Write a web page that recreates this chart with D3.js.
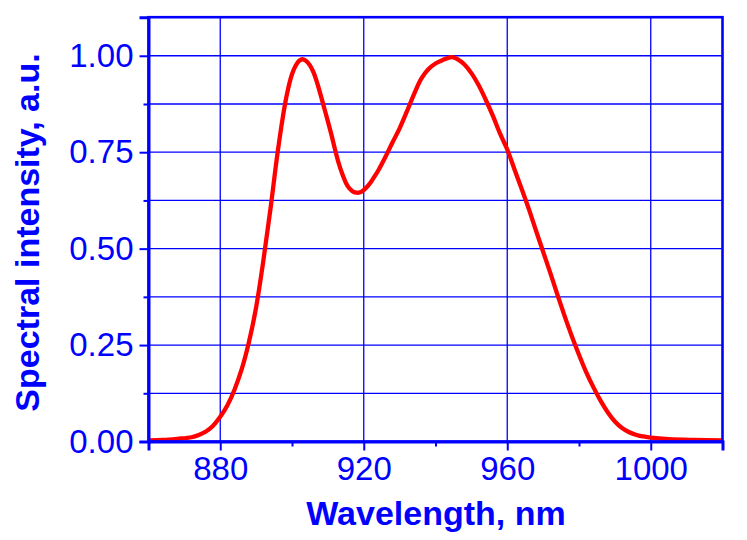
<!DOCTYPE html>
<html>
<head>
<meta charset="utf-8">
<script src="https://cdn.jsdelivr.net/npm/d3@7"></script>
<style>
  html, body { margin: 0; padding: 0; background: #fff; }
  svg { display: block; }
</style>
</head>
<body>
<svg id="chart" width="747" height="540"></svg>
<script>
const wavelength = [860, 864, 868, 872, 874, 876, 878, 880, 882, 884, 886, 888, 890, 892, 894, 896, 898, 899, 900, 901, 902, 903, 904, 905, 906, 907, 908, 909, 910, 911, 912, 913, 914, 915, 916, 917, 918, 919, 920, 921, 922, 923, 924, 926, 928, 930, 932, 934, 936, 938, 940, 942, 944, 945, 946, 948, 950, 952, 954, 956, 958, 960, 962, 964, 966, 968, 970, 972, 974, 976, 978, 980, 982, 984, 986, 988, 990, 992, 994, 996, 998, 1000, 1005, 1012, 1020];
const intensity = [0.003, 0.004, 0.007, 0.011, 0.017, 0.026, 0.041, 0.064, 0.094, 0.135, 0.188, 0.258, 0.348, 0.468, 0.603, 0.750, 0.872, 0.918, 0.952, 0.974, 0.987, 0.991, 0.986, 0.975, 0.957, 0.930, 0.898, 0.864, 0.830, 0.795, 0.757, 0.722, 0.694, 0.671, 0.656, 0.648, 0.645, 0.646, 0.652, 0.661, 0.673, 0.687, 0.702, 0.737, 0.775, 0.812, 0.855, 0.900, 0.940, 0.965, 0.980, 0.989, 0.996, 0.996, 0.992, 0.978, 0.955, 0.924, 0.886, 0.844, 0.798, 0.757, 0.706, 0.655, 0.603, 0.547, 0.492, 0.437, 0.380, 0.325, 0.273, 0.225, 0.180, 0.141, 0.106, 0.076, 0.052, 0.035, 0.024, 0.017, 0.013, 0.010, 0.006, 0.004, 0.003];
const xMajorTicks = [880, 920, 960, 1000];
const xMinorTicks = [860, 900, 940, 980, 1020];
const yMajorTicks = [0, 0.25, 0.5, 0.75, 1.0];
const yMinorTicks = [0.125, 0.375, 0.625, 0.875];
const xTitle = "Wavelength, nm";
const yTitle = "Spectral intensity, a.u.";

const blue = "#0000ff", red = "#ff0000";
const font = "Arial, 'Liberation Sans', sans-serif";
const svg = d3.select("#chart");

const x = d3.scaleLinear().domain([860, 1020]).range([148.5, 722.5]);
const y = d3.scaleLinear().domain([0, 1.1]).range([441.5, 17.2]);

// grid
const grid = svg.append("g").attr("stroke", blue).attr("stroke-width", 1.3);
grid.selectAll("line.v").data(xMajorTicks).enter().append("line")
  .attr("x1", d => x(d)).attr("x2", d => x(d))
  .attr("y1", y(0)).attr("y2", y(1.1));
grid.selectAll("line.h").data(yMajorTicks.concat(yMinorTicks).filter(d => d > 0)).enter().append("line")
  .attr("x1", x(860)).attr("x2", x(1020))
  .attr("y1", d => y(d)).attr("y2", d => y(d));

// curve
const pts = wavelength.map((w, i) => [w, intensity[i]]);
svg.append("path")
  .datum(pts)
  .attr("fill", "none")
  .attr("stroke", red)
  .attr("stroke-width", 4.3)
  .attr("stroke-linejoin", "round")
  .attr("d", d3.line().x(d => x(d[0])).y(d => y(d[1])).curve(d3.curveCatmullRom.alpha(0.5)));

// frame
svg.append("rect")
  .attr("x", x(860)).attr("y", y(1.1))
  .attr("width", x(1020) - x(860)).attr("height", y(0) - y(1.1))
  .attr("fill", "none").attr("stroke", blue).attr("stroke-width", 2.6);

// x axis
const xAxis = svg.append("g").attr("transform", `translate(0,${y(0)})`)
  .call(d3.axisBottom(x).tickValues(xMajorTicks).tickSize(9).tickPadding(6).tickFormat(d3.format("d")));
xAxis.selectAll(".tick line").attr("stroke", blue).attr("stroke-width", 2);
xAxis.select(".domain").attr("stroke", blue).attr("stroke-width", 3);
xAxis.selectAll("text").attr("fill", blue).style("font-family", font).style("font-size", "33px");
svg.append("g").attr("transform", `translate(0,${y(0)})`)
  .call(d3.axisBottom(x).tickValues(xMinorTicks).tickSize(5).tickFormat(""))
  .call(g => g.select(".domain").remove())
  .selectAll(".tick line").attr("stroke", blue).attr("stroke-width", 2);

// y axis
const yAxis = svg.append("g").attr("transform", `translate(${x(860)},0)`)
  .call(d3.axisLeft(y).tickValues(yMajorTicks).tickSize(9).tickPadding(6).tickFormat(d3.format(".2f")));
yAxis.selectAll(".tick line").attr("stroke", blue).attr("stroke-width", 2);
yAxis.select(".domain").attr("stroke", blue).attr("stroke-width", 3);
yAxis.selectAll("text").attr("fill", blue).style("font-family", font).style("font-size", "33px");
svg.append("g").attr("transform", `translate(${x(860)},0)`)
  .call(d3.axisLeft(y).tickValues(yMinorTicks).tickSize(5).tickFormat(""))
  .call(g => g.select(".domain").remove())
  .selectAll(".tick line").attr("stroke", blue).attr("stroke-width", 2);

// titles
svg.append("text")
  .attr("x", 436).attr("y", 525)
  .attr("text-anchor", "middle")
  .attr("fill", blue)
  .style("font-family", font).style("font-size", "34px").style("font-weight", "bold")
  .text(xTitle);
svg.append("text")
  .attr("transform", "translate(39,232.5) rotate(-90)")
  .attr("text-anchor", "middle")
  .attr("fill", blue)
  .style("font-family", font).style("font-size", "34px").style("font-weight", "bold")
  .text(yTitle);
</script>
</body>
</html>
